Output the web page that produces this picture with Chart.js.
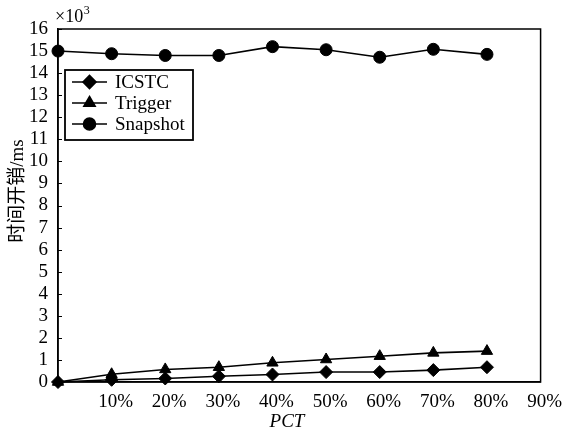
<!DOCTYPE html>
<html lang="zh">
<head>
<meta charset="UTF-8" />
<title>时间开销 - PCT</title>
<script src="https://cdn.jsdelivr.net/npm/chart.js@4"></script>
<style>
  html, body { margin: 0; padding: 0; background: #fff; }
  #wrap { width: 567px; height: 434px; }
</style>
</head>
<body>
<div id="wrap"><canvas id="chart" width="567" height="434"></canvas></div>
<script>
// ---- data (values in units of 10^3 ms) ----
const pct = [0, 10, 20, 30, 40, 50, 60, 70, 80];
const icstc = [0, 0.1, 0.16, 0.26, 0.34, 0.45, 0.45, 0.54, 0.67];
const trigger = [0, 0.35, 0.57, 0.67, 0.87, 1.02, 1.17, 1.32, 1.4];
const snapshot = [15.0, 14.88, 14.8, 14.8, 15.2, 15.06, 14.72, 15.08, 14.85];
const seriesNames = ["ICSTC", "Trigger", "Snapshot"];
const xTicks = [0, 10, 20, 30, 40, 50, 60, 70, 80, 90];
const yTicks = [0, 1, 2, 3, 4, 5, 6, 7, 8, 9, 10, 11, 12, 13, 14, 15, 16];
const xTitle = "PCT";
const yTitle = "时间开销/ms";

const SERIF = "'Liberation Serif', 'Times New Roman', 'Noto Sans CJK SC', serif";

const toPoints = (ys) => pct.map((x, i) => ({ x: x, y: ys[i] }));

const mkSet = (label, ys, style, r) => ({
  label: label,
  data: toPoints(ys),
  borderColor: "#000",
  backgroundColor: "#000",
  borderWidth: 1.6,
  pointStyle: style,
  pointRadius: r,
  pointHoverRadius: r,
  pointBorderWidth: 1,
  tension: 0,
  clip: false,
});

// frame, inward y ticks, axis titles, x10^3 label and legend box
const decor = {
  id: "decor",
  afterDraw(chart) {
    const ctx = chart.ctx;
    const a = chart.chartArea;
    const ys = chart.scales.y;
    ctx.save();
    ctx.strokeStyle = "#000";
    ctx.lineWidth = 1.5;
    ctx.strokeRect(a.left, a.top, a.right - a.left, a.bottom - a.top);

    ctx.lineWidth = 1;
    ctx.beginPath();
    for (const v of yTicks) {
      const py = Math.round(ys.getPixelForValue(v)) + 0.5;
      ctx.moveTo(a.left, py);
      ctx.lineTo(a.left + 4, py);
    }
    ctx.stroke();

    ctx.fillStyle = "#000";

    // axis titles
    ctx.textAlign = "center";
    ctx.textBaseline = "middle";
    ctx.font = "italic 19px " + SERIF;
    ctx.fillText(xTitle, 287, 422);
    ctx.save();
    ctx.translate(18, 191);
    ctx.rotate(-Math.PI / 2);
    ctx.font = "19px " + SERIF;
    ctx.fillText(yTitle, 0, 0);
    ctx.restore();

    // x10^3
    ctx.textBaseline = "alphabetic";
    ctx.textAlign = "left";
    ctx.font = "18px " + SERIF;
    ctx.fillText("\u00d710", 55, 22);
    const w = ctx.measureText("\u00d710").width;
    ctx.font = "12px " + SERIF;
    ctx.fillText("3", 55 + w + 0.5, 14);

    // legend
    const lx = 65, ly = 70, lw = 128, lh = 70;
    ctx.fillStyle = "#fff";
    ctx.fillRect(lx, ly, lw, lh);
    ctx.lineWidth = 1.8;
    ctx.strokeStyle = "#000";
    ctx.strokeRect(lx, ly, lw, lh);
    chart.data.datasets.forEach((ds, i) => {
      const cy = ly + 12 + i * 21;
      ctx.lineWidth = 1.6;
      ctx.beginPath();
      ctx.moveTo(lx + 7, cy);
      ctx.lineTo(lx + 42, cy);
      ctx.stroke();
      ctx.fillStyle = "#000";
      Chart.helpers.drawPoint(ctx, {
        pointStyle: ds.pointStyle, radius: ds.pointRadius, rotation: 0, borderWidth: 1
      }, lx + 24.5, cy);
      ctx.fillStyle = "#000";
      ctx.font = "19px " + SERIF;
      ctx.textBaseline = "middle";
      ctx.fillText(ds.label, lx + 50, cy + 1);
    });
    ctx.restore();
  },
};

new Chart(document.getElementById("chart"), {
  type: "line",
  data: {
    datasets: [
      mkSet(seriesNames[0], icstc, "rectRot", 6.5),
      mkSet(seriesNames[1], trigger, "triangle", 6.5),
      mkSet(seriesNames[2], snapshot, "circle", 6),
    ],
  },
  options: {
    responsive: false,
    animation: false,
    devicePixelRatio: 1,
    layout: { padding: { top: 29, right: 25, left: 0, bottom: 0 } },
    plugins: { legend: { display: false }, tooltip: { enabled: false } },
    scales: {
      x: {
        type: "linear",
        min: 0,
        max: 90,
        afterBuildTicks: (s) => { s.ticks = xTicks.map((v) => ({ value: v })); },
        afterFit: (s) => { s.height = 52; },
        grid: { display: false, drawTicks: false },
        border: { display: true, color: "#000", width: 1.5 },
        ticks: {
          padding: 9,
          labelOffset: 4,
          autoSkip: false,
          color: "#000",
          font: { family: SERIF, size: 19 },
          maxRotation: 0,
          callback: (v) => (v === 0 ? "" : v + "%"),
        },
        title: { display: false },
      },
      y: {
        min: 0,
        max: 16,
        afterBuildTicks: (s) => { s.ticks = yTicks.map((v) => ({ value: v })); },
        afterFit: (s) => { s.width = 58; },
        grid: { display: false, drawTicks: false },
        border: { display: true, color: "#000", width: 1.5 },
        ticks: {
          padding: 10,
          autoSkip: false,
          color: "#000",
          font: { family: SERIF, size: 19 },
        },
        title: { display: false },
      },
    },
  },
  plugins: [decor],
});
</script>
</body>
</html>
